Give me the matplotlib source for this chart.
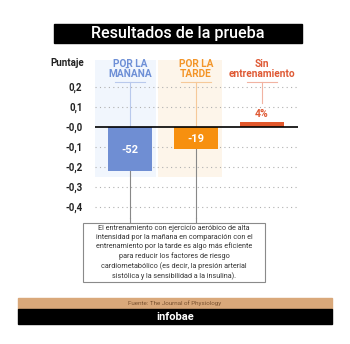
import matplotlib.pyplot as plt
from matplotlib.patches import Rectangle

plt.rcParams['font.family'] = ['Roboto', 'DejaVu Sans']

# data
categories = ['POR LA\nMAÑANA', 'POR LA\nTARDE', 'Sin\nentrenamiento']
values = [-0.22, -0.11, 0.025]
value_labels = ['-52', '-19', '4%']
yticks = [0.2, 0.1, 0.0, -0.1, -0.2, -0.3, -0.4]
ytick_labels = ['0,2', '0,1', '-0,0', '-0,1', '-0,2', '-0,3', '-0,4']

bar_colors = ['#6f8ed3', '#f7900f', '#e2582c']
label_colors = ['#6d8fd6', '#f39528', '#df5a35']
line_colors = ['#b9c9ec', '#f6c999', '#f1b3a2']
bg_colors = ['#f1f6fd', '#fdf5ea', None]

W, H = 350, 344
fig = plt.figure(figsize=(W / 100, H / 100), dpi=100)
fig.patch.set_facecolor('white')


def fx(px):
    return px / W


def fy(py):
    return 1 - py / H


# title bar
fig.patches.append(Rectangle((fx(54), fy(43)), fx(302) - fx(54), fy(24) - fy(43),
                             transform=fig.transFigure, color='black', zorder=0))
fig.text(fx(178), fy(33.5), 'Resultados de la prueba', color='white', fontsize=11.6,
         ha='center', va='center', fontweight='medium')

# main axes
ax = fig.add_axes([fx(95), fy(218), fx(298) - fx(95), fy(60) - fy(218)])
ax.set_xlim(-0.53, 2.545)
ax.set_ylim(-0.455, 0.335)
for s in ax.spines.values():
    s.set_visible(False)
ax.set_facecolor('none')
ax.set_xticks([])
ax.set_yticks(yticks)
ax.set_yticklabels(ytick_labels, fontsize=7, fontweight='bold', color='#222222')
ax.tick_params(axis='y', length=0, pad=9)

# soft backgrounds behind the first two bars
for i, c in enumerate(bg_colors):
    if c:
        ax.add_patch(Rectangle((i - 0.58, -0.25), 0.98, 0.585, color=c, zorder=0, lw=0))

for t in yticks:
    if t != 0:
        ax.axhline(t, color='#b0b0b0', lw=0.8, ls=(0, (1, 3)), zorder=1)
ax.axhline(0, color='black', lw=1.2, zorder=4)

x = list(range(len(categories)))
ax.bar(x, values, width=0.667, color=bar_colors, zorder=3)

# labels above, connectors
for i, (cat, v, lab) in enumerate(zip(categories, values, value_labels)):
    ax.text(i, 0.29, cat, ha='center', va='center', fontsize=7.3, fontweight='bold',
            color=label_colors[i], linespacing=0.9)
    ax.plot([i - 0.22, i + 0.22], [0.225, 0.225], color=line_colors[i], lw=0.8,
            zorder=2, clip_on=False)
    if v < 0:
        ax.plot([i, i], [0.225, 0], color=line_colors[i], lw=0.8, zorder=2)
        ax.plot([i, i], [v, -0.455], color='#888888', lw=0.8, zorder=2, clip_on=False)
        ax.plot([i, i], [-0.455, -0.48], color='#888888', lw=0.8, zorder=2, clip_on=False)
        ax.text(i, v / 2 - 0.005, lab, ha='center', va='center', fontsize=8,
                fontweight='bold', color='white', zorder=5)
    else:
        ax.plot([i, i], [0.225, 0.12], color=line_colors[i], lw=0.8, zorder=2)
        ax.text(i, v + 0.038, lab, ha='center', va='center', fontsize=7.5,
                fontweight='bold', color=label_colors[i])

fig.text(fx(84), fy(63), 'Puntaje', ha='right', va='center', fontsize=7,
         fontweight='bold', color='#222222')

# explanatory box
fig.patches.append(Rectangle((fx(83), fy(282)), fx(265) - fx(83), fy(223) - fy(282),
                             transform=fig.transFigure, facecolor='white',
                             edgecolor='#8a8a8a', lw=0.8, zorder=1))
box_text = ('El entrenamiento con ejercicio aeróbico de alta\n'
            'intensidad por la mañana en comparación con el\n'
            'entrenamiento por la tarde es algo más eficiente\n'
            'para reducir los factores de riesgo\n'
            'cardiometabólico (es decir, la presión arterial\n'
            'sistólica y la sensibilidad a la insulina).')
fig.text(fx(174), fy(252.5), box_text, ha='center', va='center', fontsize=5.2,
         color='#333333', linespacing=1.35, zorder=2)

# footer
fig.patches.append(Rectangle((fx(18), fy(309)), fx(332) - fx(18), fy(298) - fy(309),
                             transform=fig.transFigure, color='#d9a87a', zorder=0))
fig.text(fx(175), fy(303.5), 'Fuente: The Journal of Physiology', ha='center', va='center',
         fontsize=4.5, color='#7a5230')
fig.patches.append(Rectangle((fx(18), fy(324)), fx(332) - fx(18), fy(309) - fy(324),
                             transform=fig.transFigure, color='black', zorder=0))
fig.text(fx(175), fy(316.5), 'infobae', ha='center', va='center', fontsize=8,
         fontweight='bold', color='white')

fig.savefig('out.png', dpi=100, facecolor='white')
